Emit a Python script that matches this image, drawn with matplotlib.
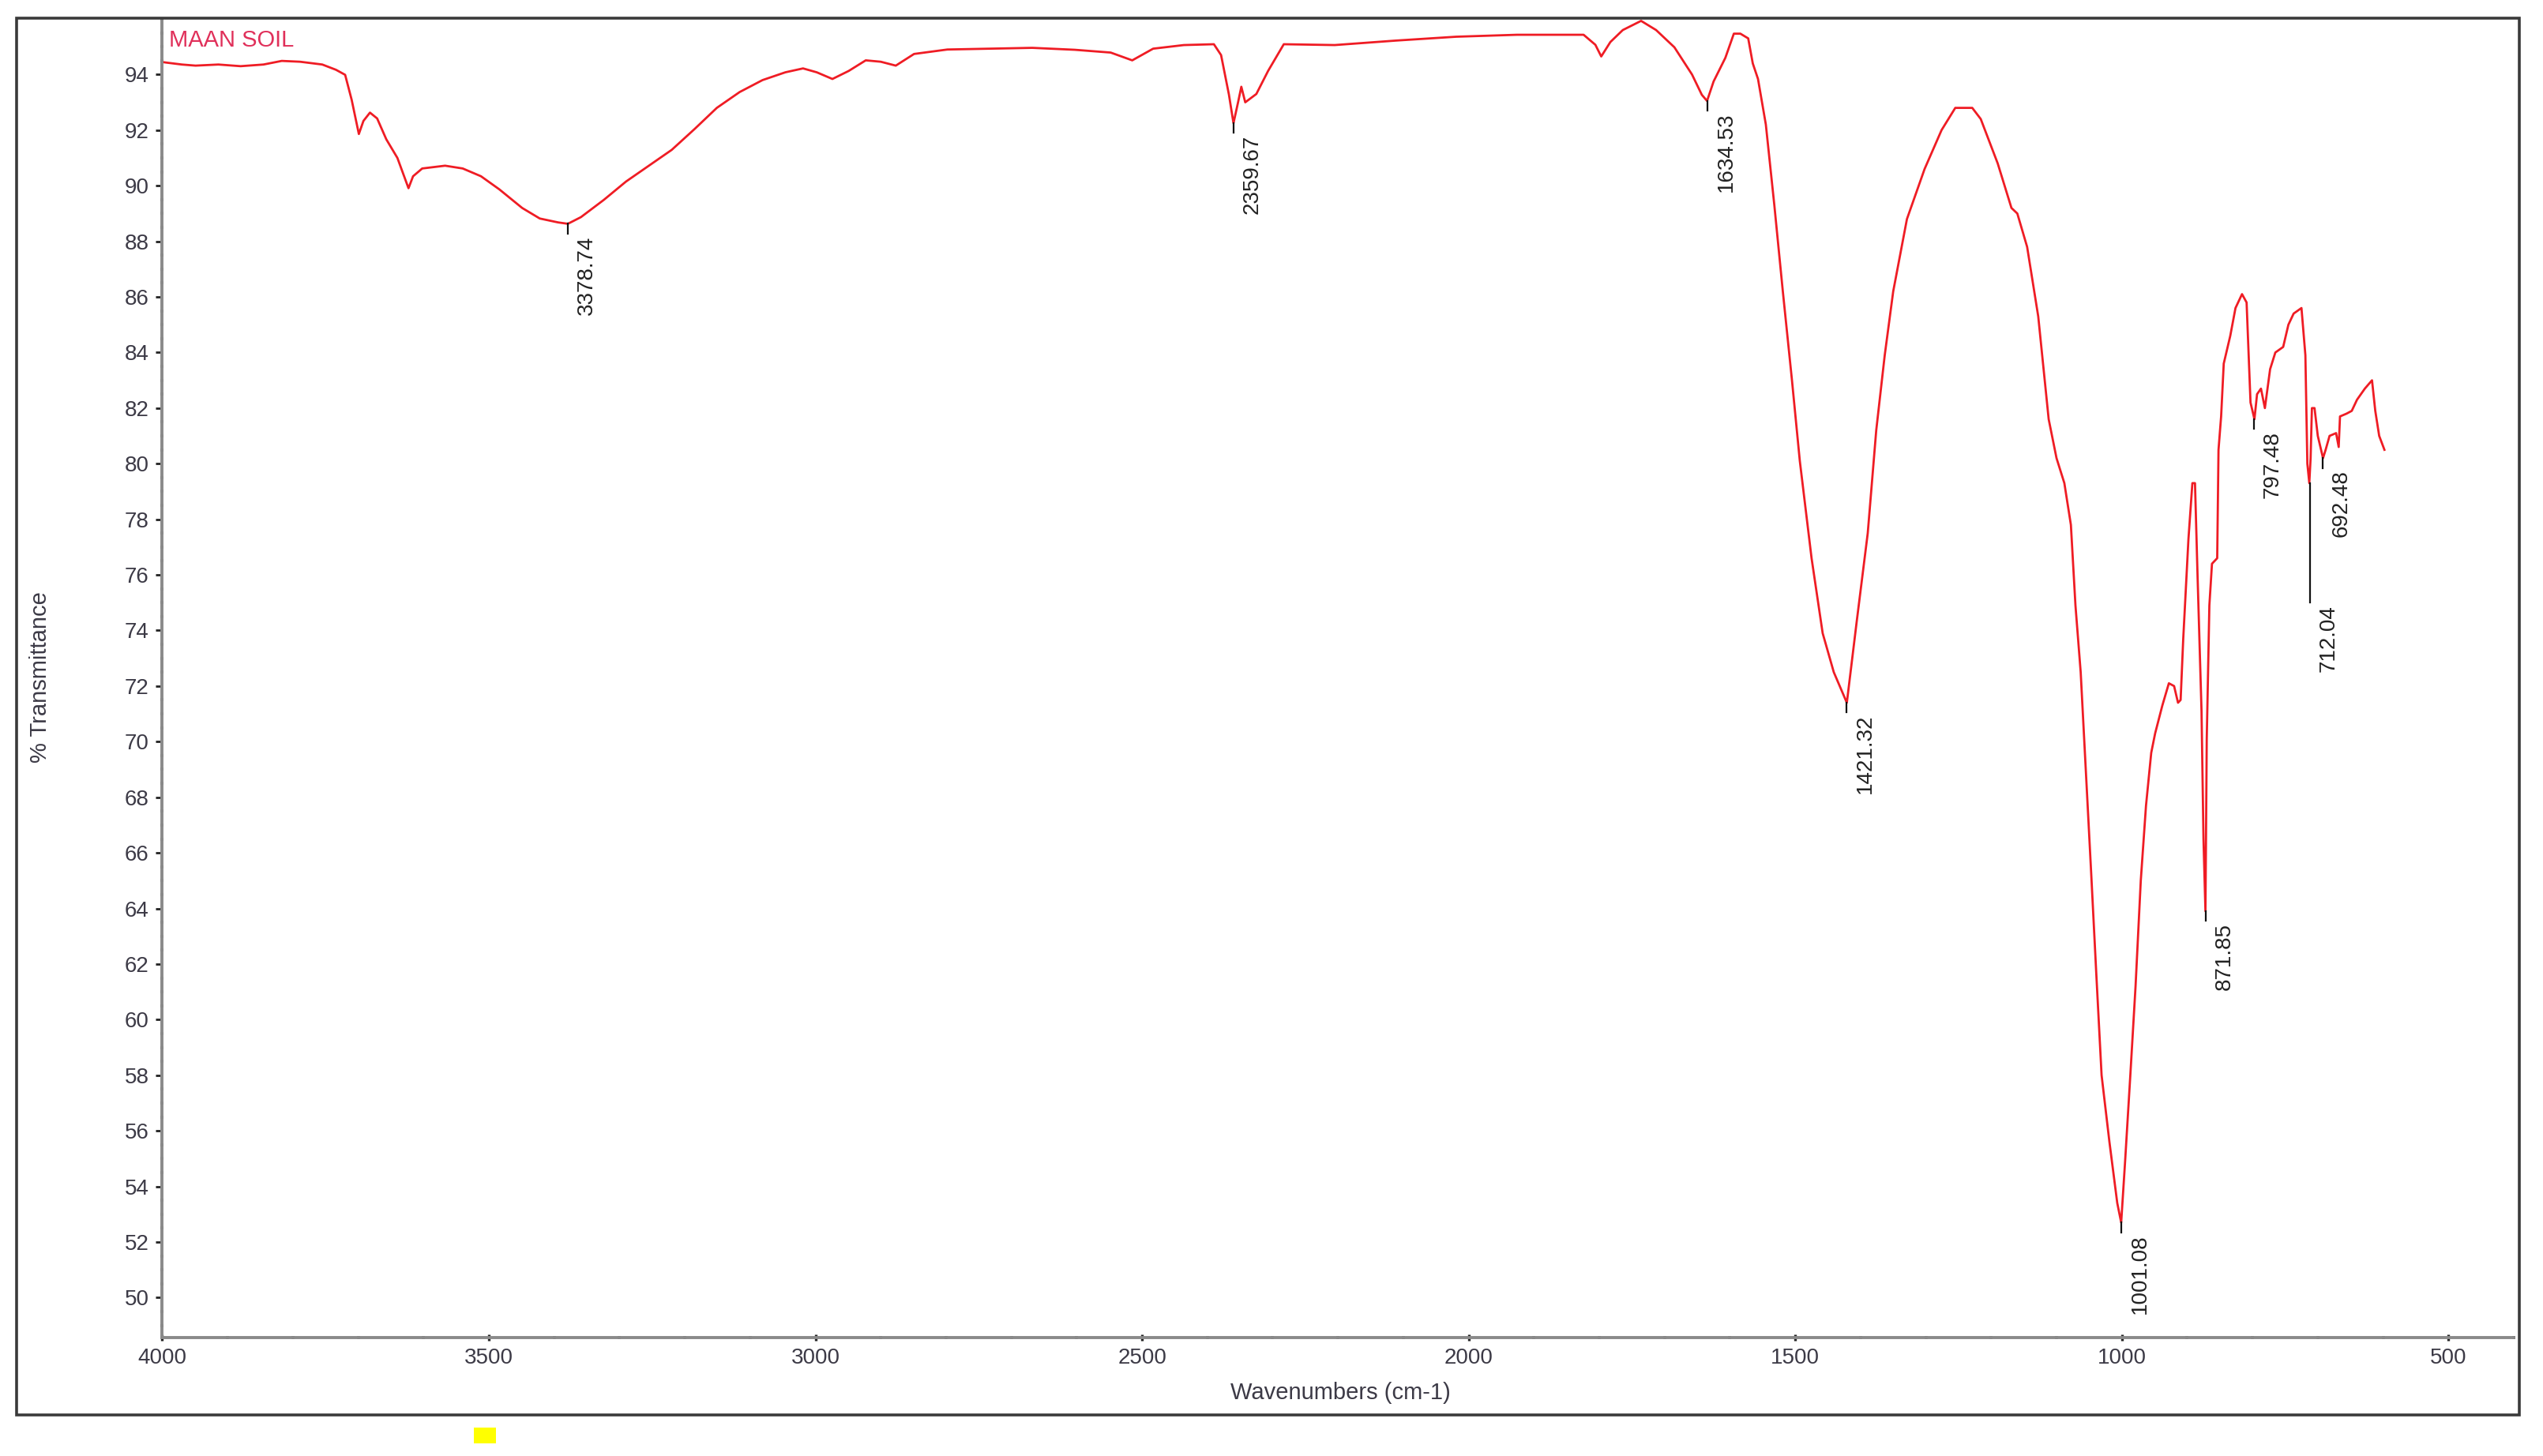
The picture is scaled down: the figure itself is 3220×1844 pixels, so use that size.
# FTIR spectrum - MAAN SOIL (% Transmittance vs wavenumber)

import matplotlib
matplotlib.use('Agg')
import matplotlib.pyplot as plt
from matplotlib.patches import Rectangle
from matplotlib.ticker import MultipleLocator

plt.rcParams['font.family'] = ['Liberation Sans', 'DejaVu Sans']

# spectrum (cm-1, %T)
wavenumber = [
    4000, 3994, 3970, 3949, 3914, 3880, 3845, 3817, 3789, 3755, 3734, 3720,
    3710, 3699, 3692, 3682, 3671, 3657, 3640, 3623, 3616, 3602, 3567, 3540,
    3512, 3484, 3449, 3422, 3394, 3379, 3359, 3324, 3290, 3255, 3220, 3185,
    3151, 3116, 3081, 3046, 3019, 2998, 2974, 2949, 2923, 2900, 2877, 2849,
    2798, 2668, 2603, 2548, 2515, 2483, 2436, 2390, 2379, 2367, 2360, 2353,
    2348, 2342, 2325, 2307, 2283, 2205, 2112, 2019, 1926, 1824, 1806, 1797,
    1783, 1764, 1736, 1713, 1685, 1658, 1643, 1635, 1625, 1607, 1594, 1584,
    1572, 1565, 1557, 1545, 1532, 1519, 1505, 1493, 1475, 1458, 1441, 1421,
    1406, 1389, 1376, 1363, 1350, 1329, 1302, 1276, 1255, 1229, 1216, 1190,
    1169, 1160, 1145, 1128, 1112, 1100, 1088, 1078, 1071, 1063, 1055, 1047,
    1039, 1031, 1019, 1007, 1001, 995, 987, 979, 971, 963, 955, 949,
    938, 928, 920, 914, 910, 906, 898, 892, 888, 884, 878, 875,
    872, 870, 866, 862, 854, 852, 848, 844, 834, 826, 816, 809,
    803, 797, 793, 787, 781, 773, 765, 753, 745, 737, 725, 719,
    716, 713, 711, 709, 705, 700, 692, 688, 682, 672, 668, 666,
    656, 648, 640, 628, 617, 612, 606, 598,
]
transmittance = [
    94.45, 94.43, 94.36, 94.32, 94.36, 94.30, 94.36, 94.49, 94.46, 94.36, 94.17, 93.99,
    93.09, 91.86, 92.33, 92.63, 92.42, 91.67, 91.00, 89.91, 90.34, 90.62, 90.72, 90.62,
    90.34, 89.87, 89.20, 88.82, 88.68, 88.63, 88.87, 89.49, 90.15, 90.72, 91.29, 92.04,
    92.80, 93.37, 93.80, 94.08, 94.22, 94.08, 93.84, 94.13, 94.51, 94.46, 94.32, 94.74,
    94.90, 94.96, 94.89, 94.79, 94.51, 94.93, 95.06, 95.09, 94.70, 93.28, 92.25, 93.00,
    93.56, 93.00, 93.30, 94.13, 95.09, 95.06, 95.22, 95.36, 95.43, 95.43, 95.07, 94.65,
    95.17, 95.60, 95.93, 95.60, 94.98, 94.00, 93.27, 93.05, 93.75, 94.60, 95.47, 95.47,
    95.30, 94.40, 93.84, 92.20, 89.30, 86.20, 83.00, 80.10, 76.60, 73.90, 72.50, 71.40,
    74.30, 77.50, 81.20, 83.90, 86.20, 88.80, 90.60, 92.00, 92.80, 92.80, 92.40, 90.80,
    89.20, 89.00, 87.80, 85.30, 81.60, 80.20, 79.30, 77.80, 74.90, 72.50, 68.90, 65.30,
    61.60, 58.00, 55.60, 53.40, 52.70, 54.90, 58.00, 61.20, 65.00, 67.70, 69.60, 70.30,
    71.30, 72.10, 72.00, 71.40, 71.50, 73.70, 77.30, 79.30, 79.30, 75.90, 71.10, 66.50,
    63.90, 70.10, 74.90, 76.40, 76.60, 80.50, 81.70, 83.60, 84.60, 85.60, 86.10, 85.80,
    82.20, 81.60, 82.50, 82.70, 82.00, 83.40, 84.00, 84.20, 85.00, 85.40, 85.60, 83.90,
    80.00, 79.30, 80.20, 82.00, 82.00, 81.00, 80.20, 80.50, 81.00, 81.10, 80.60, 81.70,
    81.80, 81.90, 82.30, 82.70, 83.00, 81.90, 81.00, 80.50,
]

# labelled peaks
peak_wn = [3378.74, 2359.67, 1634.53, 1421.32, 1001.08, 871.85, 797.48, 712.04, 692.48]
peak_t = [88.63, 92.25, 93.05, 71.40, 52.70, 63.90, 81.60, 79.30, 80.20]

fig = plt.figure(figsize=(16.1, 9.22), dpi=200)
ax = fig.add_axes([0.0638, 0.0813, 0.9247, 0.9057])

ax.plot(wavenumber, transmittance, color='#ef1c24', lw=1.0)

# peak markers + rotated labels
for w, t in zip(peak_wn, peak_t):
    drop = 4.3 if w == 712.04 else 0.35
    ax.plot([w, w], [t, t - drop], color='#111111', lw=0.8)
    ax.annotate(f'{w:.2f}', xy=(w, t - drop), xytext=(8.5, -1),
                textcoords='offset points', rotation=90, ha='center', va='top',
                fontsize=10, color='#222222')

ax.set_xlim(4000, 400)
ax.set_ylim(48.56, 96.0)

ax.xaxis.set_major_locator(MultipleLocator(500))
ax.xaxis.set_minor_locator(MultipleLocator(100))
ax.yaxis.set_major_locator(MultipleLocator(2))
ax.yaxis.set_minor_locator(MultipleLocator(0.5))
ax.set_yticks(range(50, 95, 2))

for s in ['top', 'right']:
    ax.spines[s].set_visible(False)
for s in ['left', 'bottom']:
    ax.spines[s].set_color('#8a8a8a')
    ax.spines[s].set_linewidth(1.4)

ax.tick_params(axis='x', which='major', direction='inout', length=3, width=1.2,
               color='#222222', labelsize=10, labelcolor='#3c3a46', pad=3)
ax.tick_params(axis='y', which='major', direction='out', length=3, width=1.0,
               color='#222222', labelsize=10, labelcolor='#3c3a46', pad=3)
ax.tick_params(which='minor', direction='inout', length=1.6, width=1.3, color='#222222')

ax.text(0.003, 0.984, 'MAAN SOIL', transform=ax.transAxes, ha='left', va='center',
        fontsize=10.5, color='#e0305a')

fig.text(0.0158, 0.535, '% Transmittance', rotation=90, ha='center', va='center',
         fontsize=10.5, color='#3c3a46')
fig.text(0.527, 0.0434, 'Wavenumbers (cm-1)', ha='center', va='center',
         fontsize=10.5, color='#3c3a46')

# outer frame and the small yellow mark under it
fig.patches.append(Rectangle((0.0065, 0.0282), 0.9842, 0.9593, transform=fig.transFigure,
                             fill=False, ec='#3a3a3a', lw=1.3))
fig.patches.append(Rectangle((0.1863, 0.0087), 0.0087, 0.0108, transform=fig.transFigure,
                             fc='#ffff00', ec='none'))

fig.savefig('out.png', dpi=200, facecolor='white')
